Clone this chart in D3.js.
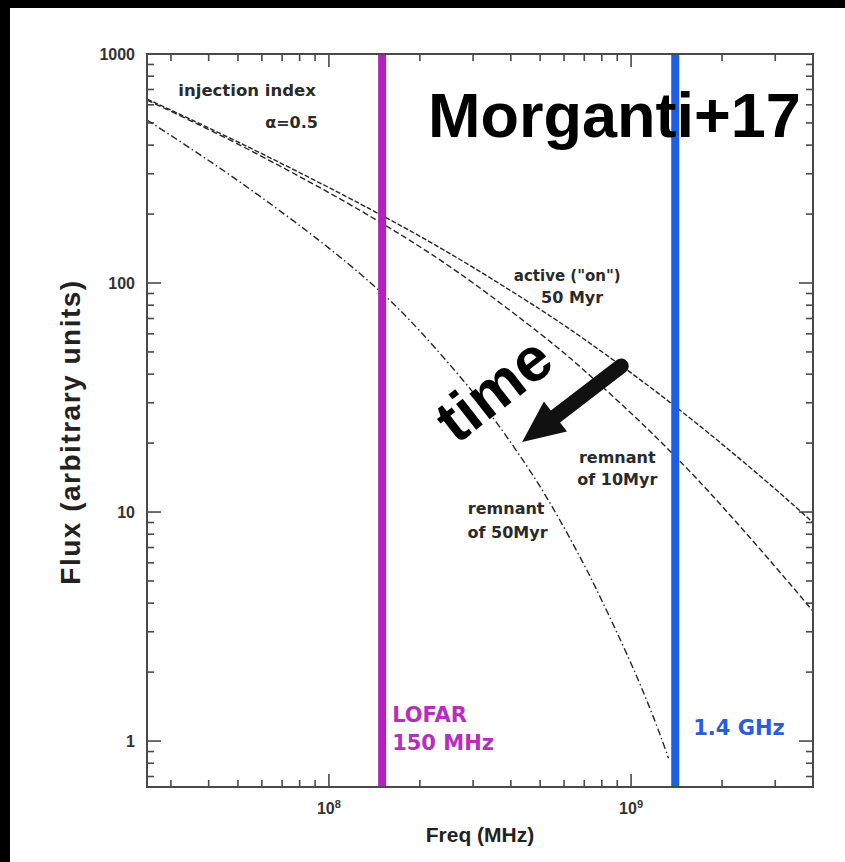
<!DOCTYPE html>
<html>
<head>
<meta charset="utf-8">
<script src="https://cdn.jsdelivr.net/npm/d3@7"></script>
<style>
  html, body { margin: 0; padding: 0; background: #000; }
  svg { display: block; }
</style>
</head>
<body>
<script>
// Model spectra: flux (arbitrary units) versus frequency
const freqs = [2.5e7, 5e7, 1e8, 1.5e8, 2e8, 3e8, 5e8, 7e8, 1e9, 1.4e9, 2e9, 3e9, 4e9];
const activeFlux = [636, 413, 261, 197, 160, 117, 76.7, 56.8, 40.5, 28.9, 19.8, 12.6, 9.0];
const remnant10Flux = [630, 404, 248, 182, 144, 100, 60.1, 41.5, 27.0, 17.5, 10.6, 5.77, 3.69];
const freqs50 = [2.5e7, 5e7, 1e8, 1.5e8, 2e8, 3e8, 4e8, 5e8, 6e8, 7e8, 8e8, 1e9, 1.2e9, 1.33e9];
const remnant50Flux = [515, 280, 142, 90.2, 61.7, 33.3, 20.1, 12.9, 8.55, 5.86, 4.11, 2.18, 1.22, 0.84];

// Observing bands
const bandFreqs = [1.5e8, 1.4e9];
const bandLabels = [["LOFAR", "150 MHz"], ["1.4 GHz"]];

// Axis ticks
const yTickValues = [1, 10, 100, 1000];
const yTickLabels = ["1", "10", "100", "1000"];
const xTickValues = [1e8, 1e9];
const xTickExponents = ["8", "9"];

const W = 845, H = 862;
const margin = { top: 54, right: 32, bottom: 75, left: 147 };

const svg = d3.select("body").append("svg")
  .attr("width", W).attr("height", H);

// black surround on top and left, white page
svg.append("rect").attr("width", W).attr("height", H).attr("fill", "#000");
svg.append("rect").attr("x", 10).attr("y", 8).attr("width", W - 10).attr("height", H - 8).attr("fill", "#fff");

const x = d3.scaleLog().domain([2.5e7, 4e9]).range([margin.left, W - margin.right]);
const y = d3.scaleLog().domain([0.63, 1000]).range([H - margin.bottom, margin.top]);

const x0 = margin.left, x1 = W - margin.right, y0 = H - margin.bottom, y1 = margin.top;
const frameColor = "#4a4a4a";

// minor / major ticks on all four sides, pointing inward
const xMinor = [];
for (let d = 1e7; d <= 1e9; d *= 10) {
  for (let k = 2; k <= 9; k++) {
    const v = d * k;
    if (v >= 2.5e7 && v < 4e9) xMinor.push(v);
  }
}
const yMinor = [];
for (let d = 0.1; d <= 100; d *= 10) {
  for (let k = 2; k <= 9; k++) {
    const v = d * k;
    if (v >= 0.63 && v < 1000) yMinor.push(v);
  }
}

const ticks = svg.append("g").attr("stroke", frameColor).attr("stroke-width", 1.6);
xMinor.forEach(v => {
  ticks.append("line").attr("x1", x(v)).attr("x2", x(v)).attr("y1", y0).attr("y2", y0 - 7);
  ticks.append("line").attr("x1", x(v)).attr("x2", x(v)).attr("y1", y1).attr("y2", y1 + 7);
});
xTickValues.forEach(v => {
  ticks.append("line").attr("x1", x(v)).attr("x2", x(v)).attr("y1", y0).attr("y2", y0 - 13);
  ticks.append("line").attr("x1", x(v)).attr("x2", x(v)).attr("y1", y1).attr("y2", y1 + 13);
});
yMinor.forEach(v => {
  ticks.append("line").attr("x1", x0).attr("x2", x0 + 7).attr("y1", y(v)).attr("y2", y(v));
  ticks.append("line").attr("x1", x1).attr("x2", x1 - 7).attr("y1", y(v)).attr("y2", y(v));
});
yTickValues.forEach(v => {
  ticks.append("line").attr("x1", x0).attr("x2", x0 + 14).attr("y1", y(v)).attr("y2", y(v));
  ticks.append("line").attr("x1", x1).attr("x2", x1 - 14).attr("y1", y(v)).attr("y2", y(v));
});

// spectra
const line = d3.line().x(d => x(d[0])).y(d => y(d[1])).curve(d3.curveNatural);
const curves = [
  { f: freqs, v: activeFlux, dash: "5,2" },
  { f: freqs, v: remnant10Flux, dash: "6,3" },
  { f: freqs50, v: remnant50Flux, dash: "7,3,1.5,3" }
];
svg.append("clipPath").attr("id", "plotclip").append("rect")
  .attr("x", x0).attr("y", y1).attr("width", x1 - x0).attr("height", y0 - y1);
svg.append("g").attr("clip-path", "url(#plotclip)")
  .selectAll("path").data(curves).join("path")
  .attr("d", c => line(c.f.map((f, i) => [f, c.v[i]])))
  .attr("fill", "none").attr("stroke", "#262626").attr("stroke-width", 1.4)
  .attr("stroke-dasharray", c => c.dash);

// observing band markers
const bandColors = ["#b41fbf", "#1a5fe6"];
svg.selectAll("line.band").data(bandFreqs).join("line").attr("class", "band")
  .attr("x1", d => x(d)).attr("x2", d => x(d)).attr("y1", y1).attr("y2", y0)
  .attr("stroke", (d, i) => bandColors[i]).attr("stroke-width", 8);

// frame
svg.append("rect").attr("x", x0).attr("y", y1).attr("width", x1 - x0).attr("height", y0 - y1)
  .attr("fill", "none").attr("stroke", frameColor).attr("stroke-width", 2);

// tick labels
const tickFont = "'Liberation Sans', Arial, Helvetica, sans-serif";
svg.selectAll("text.ylab").data(yTickValues).join("text").attr("class", "ylab")
  .attr("x", x0 - 12).attr("y", d => y(d)).attr("dy", "0.35em")
  .attr("text-anchor", "end").attr("font-family", tickFont).attr("font-weight", "bold")
  .attr("font-size", 16).attr("fill", "#333")
  .text((d, i) => yTickLabels[i]);

const xl = svg.selectAll("text.xlab").data(xTickValues).join("text").attr("class", "xlab")
  .attr("x", d => x(d)).attr("y", y0 + 27)
  .attr("text-anchor", "middle").attr("font-family", tickFont).attr("font-weight", "bold")
  .attr("font-size", 16).attr("fill", "#333");
xl.append("tspan").text("10");
xl.append("tspan").attr("dy", -6).attr("font-size", 11).text((d, i) => xTickExponents[i]);

// axis titles
svg.append("text").attr("x", (x0 + x1) / 2).attr("y", y0 + 55)
  .attr("text-anchor", "middle").attr("font-family", tickFont).attr("font-weight", "bold")
  .attr("font-size", 21).attr("fill", "#222").text("Freq (MHz)");
svg.append("text").attr("transform", "translate(80,432) rotate(-90)")
  .attr("text-anchor", "middle").attr("font-family", tickFont).attr("font-weight", "bold")
  .attr("font-size", 28).attr("letter-spacing", 1.5).attr("fill", "#222")
  .text("Flux (arbitrary units)");

// curve annotations, anchored in data space
const noteFont = "'DejaVu Sans', Verdana, sans-serif";
const notes = [
  { t: "injection index", f: 5.36e7, v: 656, anchor: "middle", s: 16.5 },
  { t: "α=0.5", f: 9.2e7, v: 475, anchor: "end", s: 16 },
  { t: "active (\"on\")", f: 6.15e8, v: 102, anchor: "middle", s: 15 },
  { t: "50 Myr", f: 6.38e8, v: 81.8, anchor: "middle", s: 16 },
  { t: "remnant", f: 9.0e8, v: 16.4, anchor: "middle", s: 16 },
  { t: "of 10Myr", f: 9.0e8, v: 13.1, anchor: "middle", s: 16 },
  { t: "remnant", f: 3.86e8, v: 9.8, anchor: "middle", s: 16 },
  { t: "of 50Myr", f: 3.9e8, v: 7.7, anchor: "middle", s: 16 }
];
svg.selectAll("text.note").data(notes).join("text").attr("class", "note")
  .attr("x", d => x(d.f)).attr("y", d => y(d.v))
  .attr("text-anchor", d => d.anchor).attr("font-family", noteFont)
  .attr("font-weight", "bold").attr("font-size", d => d.s).attr("fill", "#2a2a2a")
  .text(d => d.t);

// band labels
const bandText = svg.append("g").attr("font-family", noteFont).attr("font-size", 21)
  .attr("font-weight", "bold");
bandText.append("text").attr("x", x(bandFreqs[0]) + 10).attr("y", y(1.21))
  .attr("fill", "#b52ec0").text(bandLabels[0][0]);
bandText.append("text").attr("x", x(bandFreqs[0]) + 10).attr("y", y(0.914))
  .attr("fill", "#b52ec0").text(bandLabels[0][1]);
bandText.append("text").attr("x", x(bandFreqs[1]) + 18).attr("y", y(1.06))
  .attr("fill", "#2a5ce0").text(bandLabels[1][0]);

// ageing arrow
const arrowTail = [9.28e8, 43.4], arrowTip = [4.36e8, 20.2];
const tx = x(arrowTail[0]), ty = y(arrowTail[1]);
const hx = x(arrowTip[0]), hy = y(arrowTip[1]);
const len = Math.hypot(hx - tx, hy - ty);
const ang = Math.atan2(hy - ty, hx - tx) * 180 / Math.PI;
const shaftW = 15, headL = 42, headW = 38;
const arrowPath = d3.path();
arrowPath.moveTo(0, -shaftW / 2);
arrowPath.lineTo(len - headL, -shaftW / 2);
arrowPath.lineTo(len - headL, -headW / 2);
arrowPath.lineTo(len, 0);
arrowPath.lineTo(len - headL, headW / 2);
arrowPath.lineTo(len - headL, shaftW / 2);
arrowPath.lineTo(0, shaftW / 2);
arrowPath.arc(0, 0, shaftW / 2, Math.PI / 2, 3 * Math.PI / 2);
arrowPath.closePath();
svg.append("path").attr("d", arrowPath.toString())
  .attr("transform", `translate(${tx},${ty}) rotate(${ang})`)
  .attr("fill", "#111");

svg.append("text")
  .attr("transform", `translate(${x(3.5e8)},${y(34.5)}) rotate(-38)`)
  .attr("text-anchor", "middle").attr("dy", "0.35em")
  .attr("font-family", tickFont).attr("font-weight", "bold").attr("font-size", 62)
  .attr("fill", "#000").text("time");

// citation tag
svg.append("text").attr("x", 428).attr("y", 137)
  .attr("font-family", tickFont).attr("font-weight", "bold").attr("font-size", 63)
  .attr("fill", "#000").text("Morganti+17");
</script>
</body>
</html>
